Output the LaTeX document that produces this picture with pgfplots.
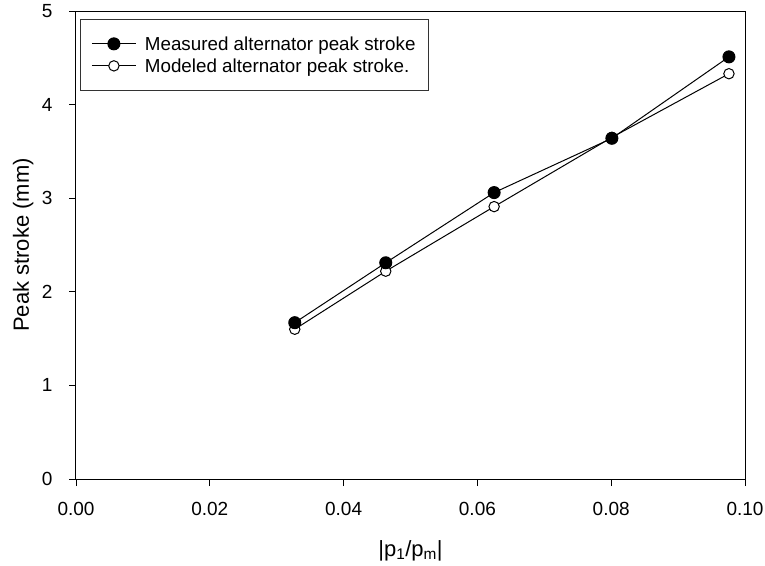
\documentclass[border=0pt]{standalone}
\usepackage{fontspec}
\setmainfont{Liberation Sans}
\usepackage{pgfplots}
\pgfplotsset{compat=1.18}

% Peak stroke data: |p1/pm| against stroke in mm
\pgfplotstableread{
x       y
0.0327  1.67
0.0463  2.31
0.0625  3.06
0.0801  3.64
0.0976  4.51
}\measured
\pgfplotstableread{
x       y
0.0327  1.60
0.0463  2.22
0.0625  2.91
0.0801  3.65
0.0976  4.33
}\modeled

\begin{document}
\begin{tikzpicture}
\useasboundingbox (-76pt,-86pt) rectangle (689pt,479pt);
\begin{axis}[
  scale only axis,
  width=669pt, height=468pt,
  xmin=0, xmax=0.1, ymin=0, ymax=5,
  xtick={0,0.02,0.04,0.06,0.08,0.1},
  ytick={0,1,2,3,4,5},
  minor tick num=0,
  tick align=outside,
  xtick pos=bottom, ytick pos=left,
  major tick length=7pt,
  tick style={black, line width=0.9pt},
  axis line style={line width=1pt},
  /pgf/number format/assume math mode=true,
  xticklabel style={/pgf/number format/fixed, /pgf/number format/precision=2,
    /pgf/number format/fixed zerofill},
  scaled x ticks=false,
  ticklabel style={font=\fontsize{19}{21}\selectfont},
  xticklabel style={yshift=-13pt},
  yticklabel style={xshift=-13pt},
  label style={font=\fontsize{22}{25}\selectfont},
  xlabel={\textbar p\textsubscript{1}/p\textsubscript{m}\textbar},
  ylabel={Peak stroke (mm)},
  xlabel style={at={(axis description cs:0.5,-0.153)}, anchor=center,
    text height=16pt, text depth=5pt},
  ylabel style={at={(axis description cs:-0.079,0.5)}, anchor=center, rotate=0},
  reverse legend,
  legend style={at={(0.006,0.983)}, anchor=north west,
    draw=black!80, line width=0.8pt,
    font=\fontsize{18.8}{20}\selectfont,
    inner xsep=11pt, inner ysep=13.5pt,
    row sep=0pt,
    nodes={inner sep=1.5pt, text height=15.7pt, text depth=3.3pt, anchor=west},
    cells={anchor=west}},
  legend image code/.code={
    \draw[#1, mark repeat=2, mark phase=2]
      plot coordinates {(0pt,0pt) (22pt,0pt) (44pt,0pt)};
    \path (51pt,0pt);},
]
\addplot[black, line width=1pt, mark=*, mark size=5.2pt,
  mark options={fill=white, draw=black, line width=1pt}]
  table[x=x, y=y] {\modeled};
\addlegendentry{Modeled alternator peak stroke.}
\addplot[black, line width=1pt, mark=*, mark size=6pt,
  mark options={fill=black}]
  table[x=x, y=y] {\measured};
\addlegendentry{Measured alternator peak stroke}
\end{axis}
\end{tikzpicture}
\end{document}
